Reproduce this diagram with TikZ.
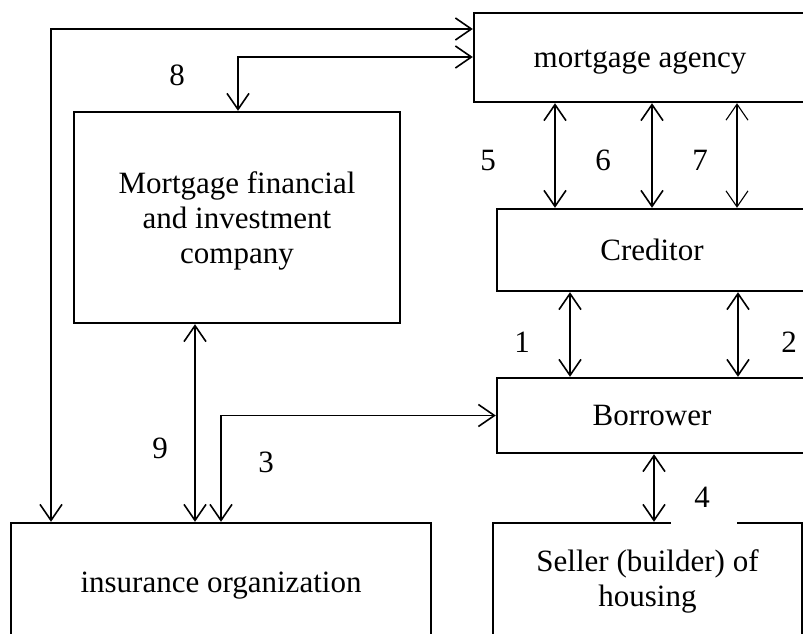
\documentclass[tikz,border=0pt]{standalone}
\usepackage{fontspec}
\setmainfont{Liberation Serif}
\usetikzlibrary{arrows.meta}
\begin{document}
\begin{tikzpicture}[x=1pt,y=-1pt,
  box/.style={draw, line width=2.4pt, inner sep=0pt, align=center,
    font=\fontsize{31}{35}\selectfont},
  one/.style={text height=20.5pt, text depth=0pt},
  lbl/.style={inner sep=0pt, font=\fontsize{31}{35}\selectfont},
  conn/.style={line width=1.6pt, {Straight Barb[length=16pt,width=22pt]}-{Straight Barb[length=16pt,width=22pt]}}
]
\useasboundingbox (0,0) rectangle (803,633);
\clip (0,0) rectangle (803,633);
% boxes
\node[box, one, minimum width=332pt, minimum height=89pt] (agency) at (640,57.5) {mortgage agency};
\node[box, minimum width=326pt, minimum height=211pt] (mfic) at (237,217.5) {};
\node[align=center, inner sep=0pt, font=\fontsize{31}{35}\selectfont] (mfict) at ([yshift=-3pt]mfic.center) {Mortgage financial\\and investment\\company};
\node[box, one, minimum width=310pt, minimum height=82pt] (cred) at (652,250) {Creditor};
\node[box, one, minimum width=310pt, minimum height=75pt] (bor) at (652,415.5) {Borrower};
\node[box, one, minimum width=420pt, minimum height=118pt] (ins) at (221,582) {insurance organization};
\node[box, minimum width=309pt, minimum height=117pt] (sel) at (647.5,581.5) {Seller (builder) of\\housing};
\draw[white, line width=4pt] ([xshift=179pt]sel.north west) -- ([xshift=245pt]sel.north west);
% helper coordinates
\coordinate (t1) at (51,29);
\coordinate (t8) at (238,57);
\coordinate (x5) at (555,0);
\coordinate (x6) at (652,0);
\coordinate (x7) at (737,0);
\coordinate (x1) at (570,0);
\coordinate (x2) at (738,0);
\coordinate (x4) at (654,0);
\coordinate (x9) at (195,0);
\coordinate (x3) at (221,0);
% connectors
\draw[conn] (ins.north -| t1) |- (agency.west |- t1);
\draw[conn] (mfic.north -| t8) |- (agency.west |- t8);
\draw[conn] (agency.south -| x5) -- (cred.north -| x5);
\draw[conn] (agency.south -| x6) -- (cred.north -| x6);
\draw[conn, line width=1.1pt] (agency.south -| x7) -- (cred.north -| x7);
\draw[conn] (cred.south -| x1) -- (bor.north -| x1);
\draw[conn] (cred.south -| x2) -- (bor.north -| x2);
\draw[conn] (bor.south -| x4) -- (sel.north -| x4);
\draw[conn] (mfic.south -| x9) -- (ins.north -| x9);
\draw[conn] (ins.north -| x3) |- (bor.west);
% labels
\node[lbl] (l8) at (177,75) {8};
\node[lbl] (l5) at (488,160) {5};
\node[lbl] (l6) at (603,160) {6};
\node[lbl] (l7) at (700,160) {7};
\node[lbl] (l1) at (522,342) {1};
\node[lbl] (l2) at (789,342) {2};
\node[lbl] (l9) at (160,448) {9};
\node[lbl] (l3) at (266,462) {3};
\node[lbl] (l4) at (702,497) {4};
\end{tikzpicture}
\end{document}
